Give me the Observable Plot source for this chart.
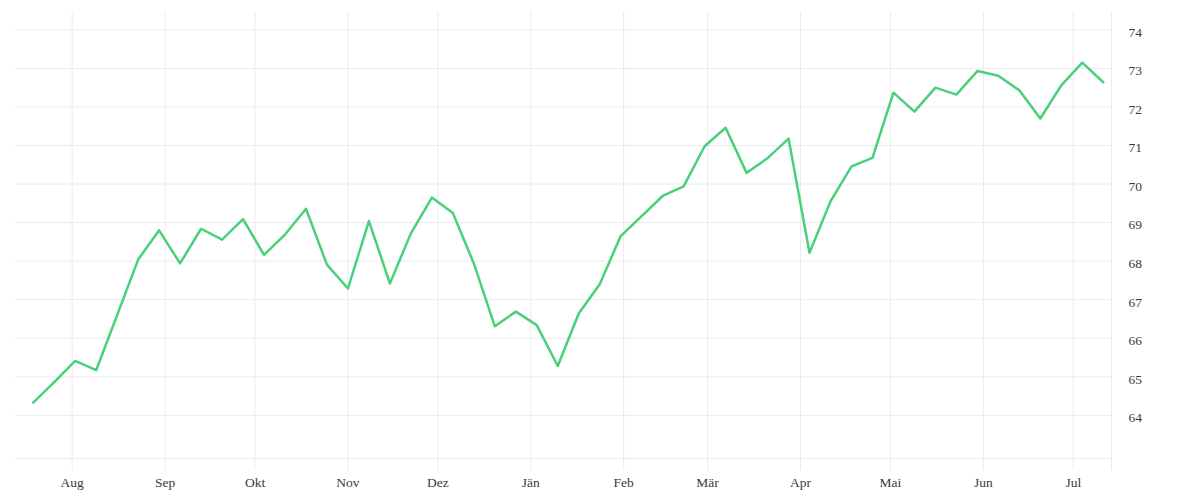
<!DOCTYPE html>
<html>
<head>
<meta charset="utf-8">
<script src="https://cdn.jsdelivr.net/npm/d3@7"></script>
<script src="https://cdn.jsdelivr.net/npm/@observablehq/plot@0.6"></script>
<style>
  html, body { margin: 0; padding: 0; background: #fff; }
</style>
</head>
<body>
<div id="chart"></div>
<script>
const startDate = "2022-07-19";
const values = [
  64.33, 64.86, 65.41, 65.17, 66.60, 68.04, 68.80, 67.94, 68.84, 68.56,
  69.09, 68.16, 68.69, 69.36, 67.91, 67.29, 69.04, 67.42, 68.72, 69.65,
  69.25, 67.94, 66.31, 66.69, 66.34, 65.28, 66.64, 67.40, 68.65, 69.17,
  69.69, 69.94, 70.98, 71.46, 70.29, 70.67, 71.18, 68.22, 69.55, 70.46,
  70.68, 72.37, 71.88, 72.50, 72.32, 72.93, 72.81, 72.43, 71.70, 72.56,
  73.15, 72.64
];
const monthLabels = ["Aug", "Sep", "Okt", "Nov", "Dez", "Jän", "Feb", "Mär", "Apr", "Mai", "Jun", "Jul"];
const monthStarts = ["2022-08-01", "2022-09-01", "2022-10-01", "2022-11-01", "2022-12-01", "2023-01-01",
                     "2023-02-01", "2023-03-01", "2023-04-01", "2023-05-01", "2023-06-01", "2023-07-01"];
const yTicks = [64, 65, 66, 67, 68, 69, 70, 71, 72, 73, 74];

const yDomain = [62.88, 74.45];
const xDomain = [new Date("2022-07-13T02:00:00Z"), new Date("2023-07-13T18:00:00Z")];

const DAY = 86400000;
const t0 = new Date(startDate + "T00:00:00Z").getTime();
const data = values.map((v, i) => ({date: new Date(t0 + i * 7 * DAY), value: v}));

const xTicks = monthStarts.map(d => new Date(d + "T00:00:00Z")).concat([xDomain[1]]);
const labelFor = (d) => {
  const i = xTicks.findIndex(t => +t === +d);
  return i >= 0 && i < monthLabels.length ? monthLabels[i] : "";
};

const grid = "#ebebeb";

const chart = Plot.plot({
  width: 1200,
  height: 500,
  marginLeft: 15,
  marginRight: 89,
  marginTop: 12,
  marginBottom: 42,
  style: {fontFamily: "'Liberation Serif', serif", fontSize: "13.5px", color: "#3a3a3a", background: "#fff"},
  x: {type: "utc", domain: xDomain},
  y: {domain: yDomain},
  marks: [
    Plot.gridY(yTicks, {stroke: grid, strokeOpacity: 1}),
    Plot.ruleY([yDomain[0]], {stroke: grid}),
    Plot.gridX(xTicks, {stroke: grid, strokeOpacity: 1}),
    Plot.axisX(xTicks, {tickSize: 12, tickPadding: 7, stroke: grid, tickFormat: labelFor, fill: "#3a3a3a", label: null}),
    Plot.axisY(yTicks, {anchor: "right", tickSize: 0, tickPadding: 17, dy: 2.5, fill: "#3a3a3a", label: null}),
    Plot.lineY(data, {x: "date", y: "value", stroke: "#48d17a", strokeWidth: 2.5})
  ]
});

document.getElementById("chart").appendChild(chart);
</script>
</body>
</html>
